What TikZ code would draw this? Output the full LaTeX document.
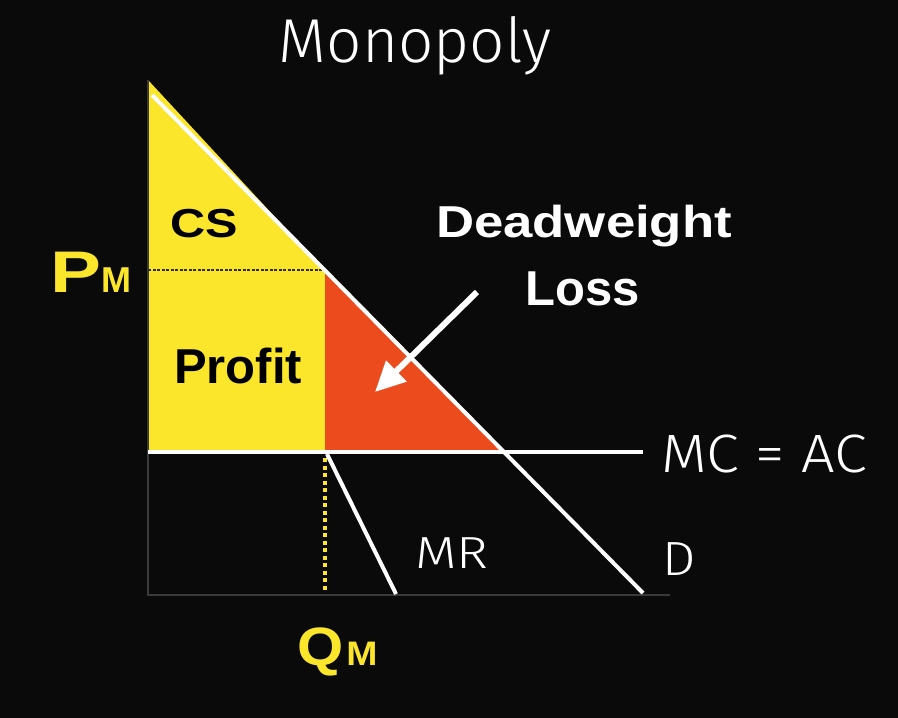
\documentclass[tikz,border=0pt]{standalone}
\usepackage{fontspec}
\usepackage{graphicx}
\setmainfont{Liberation Sans}
\newfontfamily\thinfont{Fira Sans Light}
\usetikzlibrary{arrows.meta}
\definecolor{bg}{HTML}{0A0A0A}
\definecolor{yel}{HTML}{FBE62C}
\definecolor{dwl}{HTML}{EC4B1E}
\definecolor{axisgray}{HTML}{3A3A3A}
\tikzset{
  whiteline/.style={draw=white,line width=4pt},
  lbl/.style={inner sep=0pt,anchor=base west},
  thinlbl/.style={lbl,text=white,font=\thinfont},
  boldlbl/.style={lbl,font=\bfseries},
}
\begin{document}
\begin{tikzpicture}[x=1pt,y=-1pt]
\fill[bg] (0,0) rectangle (898,718);
\useasboundingbox (0,0) rectangle (898,718);
% key points
\coordinate (top) at (148,80);
\coordinate (pmAxis) at (148,270);
\coordinate (pmD) at (324,270);
\coordinate (qmTop) at (325,270);
\coordinate (mcAxis) at (148,452);
\coordinate (qmMC) at (325,452);
\coordinate (dMC) at (504,452);
\coordinate (mcEnd) at (643,452);
\coordinate (dStart) at (152,95);
\coordinate (dEnd) at (643,593);
\coordinate (mrStart) at (327,454);
\coordinate (mrEnd) at (396,594);
\coordinate (origin) at (148,595);
\coordinate (xEnd) at (670,595);
\coordinate (dotTop) at (325,458);
\coordinate (dotBot) at (325,592);
\coordinate (arrStart) at (477,292);
\coordinate (arrTip) at (375,392);
% areas
\fill[yel] (top) -- (pmD) -- (pmAxis) -- cycle;
\fill[yel] (pmAxis) rectangle (qmMC);
\fill[dwl] (qmTop) -- (dMC) -- (qmMC) -- cycle;
% axes
\draw[axisgray,line width=1.5pt] (top) -- (origin) -- (xEnd);
% price line
\draw[black!80!yel,line width=1.2pt,dash pattern=on 3pt off 1.5pt] (pmAxis) -- (pmD);
% quantity dotted line
\draw[yel,line width=4pt,dash pattern=on 4pt off 3.5pt] (dotTop) -- (dotBot);
% curves
\draw[whiteline] (mcAxis) -- (mcEnd);
\draw[whiteline] (dStart) -- (dEnd);
\draw[whiteline] (mrStart) -- (mrEnd);
% arrow
\draw[white,line width=6pt,-{Triangle[length=30pt,width=28pt]}] (arrStart) -- (arrTip);
% labels
\node[thinlbl,anchor=base,font=\thinfont\fontsize{62}{64}\selectfont] (title) at (415,62) {Monopoly};
\node[thinlbl,font=\thinfont\fontsize{54}{56}\selectfont] (mclbl) at (661,472) {\scalebox{1.1}[1]{MC = AC}};
\node[thinlbl,font=\thinfont\fontsize{48}{50}\selectfont] (dlbl) at (662,575) {\scalebox{1.1}[1]{D}};
\node[thinlbl,font=\thinfont\fontsize{45}{47}\selectfont] (mrlbl) at (415,568) {\scalebox{1.2}[1]{MR}};
\node[boldlbl,text=black,font=\bfseries\fontsize{40.5}{42}\selectfont] (cs) at (170,237) {\scalebox{1.2}[1]{CS}};
\node[boldlbl,text=black,font=\bfseries\fontsize{49}{50}\selectfont] (profit) at (174,383) {Profit};
\node[boldlbl,anchor=base,text=white,font=\bfseries\fontsize{44.7}{46}\selectfont] (dw1) at (584,237) {\scalebox{1.18}[1]{Deadweight}};
\node[boldlbl,anchor=base,text=white,font=\bfseries\fontsize{49}{50}\selectfont] (dw2) at (583,305) {Loss};
\node[boldlbl,text=yel] (pm) at (50,292) {{\fontsize{58.7}{60}\selectfont\scalebox{1.3}[1]{P}}{\fontsize{36}{37}\selectfont M}};
\node[boldlbl,text=yel] (qm) at (297,665) {{\fontsize{54}{55}\selectfont\scalebox{1.1}[1]{Q}}\hspace{3pt}{\fontsize{34}{35}\selectfont\scalebox{1.1}[1]{M}}};
\end{tikzpicture}
\end{document}
